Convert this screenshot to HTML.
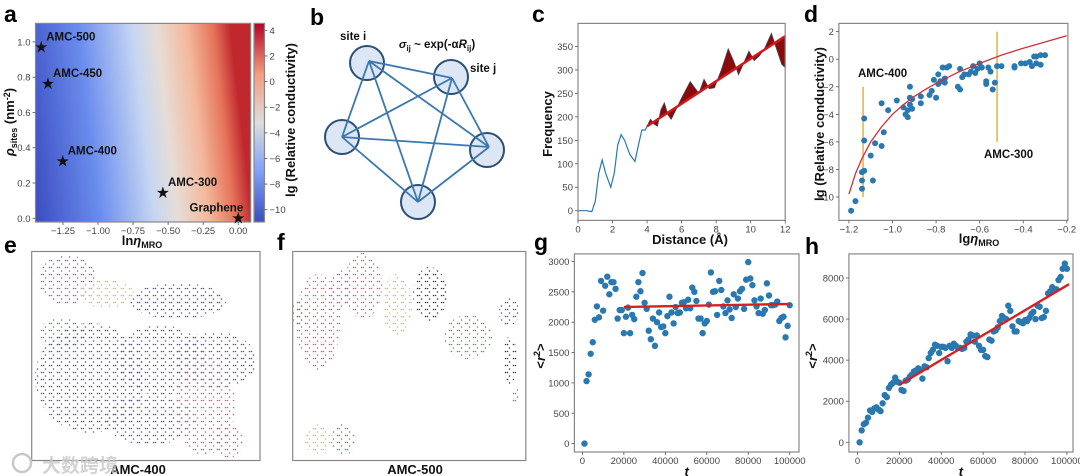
<!DOCTYPE html>
<html><head><meta charset="utf-8"><style>
html,body{margin:0;padding:0;background:#fff;}
svg{display:block;font-family:"Liberation Sans","Noto Sans CJK SC",sans-serif;}
.tk{font-size:9.5px;fill:#444;}
.lb{font-size:13px;font-weight:bold;fill:#111;}
.pl{font-size:23px;font-weight:bold;fill:#000;}
.an{font-size:11.5px;font-weight:bold;fill:#111;}
</style></head><body>
<svg id="fig" width="1080" height="476" viewBox="0 0 1080 476">
<defs>
<linearGradient id="hm" gradientUnits="userSpaceOnUse" x1="36" y1="230" x2="251" y2="205">
<stop offset="0" stop-color="#3b4cc0"/><stop offset="0.3" stop-color="#6a8cee"/><stop offset="0.55" stop-color="#c6d6f2"/><stop offset="0.66" stop-color="#e6ddd6"/><stop offset="0.8" stop-color="#f3b89c"/><stop offset="0.92" stop-color="#e5735a"/><stop offset="1" stop-color="#c0282e"/>
</linearGradient>
<linearGradient id="cb" x1="0" y1="1" x2="0" y2="0">
<stop offset="0" stop-color="#3b4cc0"/><stop offset="0.25" stop-color="#7b9ff9"/><stop offset="0.5" stop-color="#dddddd"/><stop offset="0.75" stop-color="#f49a7b"/><stop offset="1" stop-color="#b40426"/>
</linearGradient>
</defs>
<text class="pl" x="4" y="22">a</text>
<text class="pl" x="310" y="25">b</text>
<text class="pl" x="532" y="22">c</text>
<text class="pl" x="804" y="22">d</text>
<text class="pl" x="4" y="253">e</text>
<text class="pl" x="277" y="250">f</text>
<text class="pl" x="534" y="250">g</text>
<text class="pl" x="805" y="254">h</text>
</svg>
<script>
// ---------- data ----------
const starNames=["AMC-500","AMC-450","AMC-400","AMC-300","Graphene"];
const starX=[-1.405,-1.357,-1.252,-0.537,0.0];
const starY=[0.968,0.761,0.323,0.143,0.0];
const aXTicks=[-1.25,-1.0,-0.75,-0.5,-0.25,0.0];
const aXLabels=["\u22121.25","\u22121.00","\u22120.75","\u22120.50","\u22120.25","0.00"];
const aYTicks=[0,0.2,0.4,0.6,0.8,1.0];
const aYLabels=["0.0","0.2","0.4","0.6","0.8","1.0"];
const cbTicks=[-10,-8,-6,-4,-2,0,2,4];
const cbLabels=["\u221210","\u22128","\u22126","\u22124","\u22122","0","2","4"];

const distC=[0,0.5,0.8,1.0,1.2,1.4,1.6,1.9,2.1,2.3,2.5,2.7,3.0,3.3,3.5,3.7,3.9,4.0,4.2,4.4,4.6,4.8,5.0,5.2,5.4,5.6,6.0,6.5,6.8,7.0,7.3,7.6,7.9,8.3,8.7,9.0,9.3,9.6,9.9,10.2,10.5,10.8,11.2,11.5,11.8,12.0];
const freqC=[0,0,-2,20,80,108,80,50,80,140,162,150,120,105,140,172,172,180,195,185,180,215,230,205,195,210,240,275,260,250,280,260,262,300,345,320,290,315,340,320,330,345,378,345,312,305];
const trendStart=[4,180];
const trendEnd=[12,372];
const cXTicks=[0,2,4,6,8,10,12];
const cYTicks=[0,50,100,150,200,250,300,350];

const dX=[-1.19,-1.17,-1.14,-1.14,-1.14,-1.13,-1.13,-1.13,-1.1,-1.09,-1.08,-1.05,-1.04,-1.05,-1.02,-0.98,-0.95,-0.94,-0.93,-0.93,-0.92,-0.92,-0.92,-0.91,-0.91,-0.87,-0.87,-0.83,-0.82,-0.81,-0.8,-0.79,-0.79,-0.78,-0.77,-0.76,-0.76,-0.75,-0.74,-0.7,-0.69,-0.69,-0.68,-0.67,-0.65,-0.64,-0.63,-0.62,-0.61,-0.6,-0.59,-0.57,-0.57,-0.56,-0.55,-0.54,-0.53,-0.52,-0.5,-0.44,-0.44,-0.41,-0.39,-0.37,-0.36,-0.35,-0.34,-0.34,-0.32,-0.32,-0.3];
const dY=[-11,-10.3,-8.2,-8.8,-9.4,-8.1,-5.9,-4.3,-7,-8.8,-6.1,-6.3,-5.3,-3.2,-3.7,-3,-3.5,-4,-4.2,-3.7,-3.3,-2.8,-2,-2.9,-3.6,-3.2,-2.7,-2.6,-2.3,-1.5,-2.8,-1.8,-1.1,-1.6,-0.6,-1.4,-1.7,-0.6,-0.5,-2,-2.2,-0.7,-1.3,-1.1,-1.1,-0.9,-0.5,-1,-0.7,-0.3,-0.6,-1.6,-1.8,-0.6,-0.9,-2.2,-1.7,-0.5,-0.5,-0.5,-0.6,-0.3,-0.3,-0.2,-0.5,0.2,0.2,-0.3,0.3,-0.4,0.3];
const fitDX=[-1.2,-1.17,-1.14,-1.1,-1.05,-1.0,-0.95,-0.9,-0.85,-0.8,-0.7,-0.6,-0.5,-0.4,-0.3,-0.2];
const fitDY=[-9.8,-8.3,-7.2,-6.0,-4.9,-4.0,-3.3,-2.7,-2.2,-1.75,-0.95,-0.3,0.3,0.8,1.25,1.7];
const dXTicks=[-1.2,-1.0,-0.8,-0.6,-0.4,-0.2];
const dXLabels=["\u22121.2","\u22121.0","\u22120.8","\u22120.6","\u22120.4","\u22120.2"];
const dYTicks=[-10,-8,-6,-4,-2,0,2];
const dYLabels=["\u221210","\u22128","\u22126","\u22124","\u22122","0","2"];
const markerX=[-1.135,-0.52];
const markerTop=[-2,2];
const markerBottom=[-10,-6];

const tSteps=[1,2,3,4,5,6,7,8,9,10,11,12,13,14,15,16,17,18,19,20,21,22,23,24,25,26,27,28,29,30,31,32,33,34,35,36,37,38,39,40,41,42,43,44,45,46,47,48,49,50,51,52,53,54,55,56,57,58,59,60,61,62,63,64,65,66,67,68,69,70,71,72,73,74,75,76,77,78,79,80,81,82,83,84,85,86,87,88,89,90,91,92,93,94,95,96,97,98,99,100];
const r2G=[0,1030,1140,1480,1670,2040,2260,2080,2680,2190,2600,2750,2460,2660,2660,2550,2060,2200,2200,1820,2090,2240,1820,2120,2050,2420,2660,2510,2810,2320,2220,1860,1720,2060,1610,2000,2160,1920,1930,1820,2100,2420,2160,1980,2250,2150,2160,2320,2330,2230,2370,2230,2570,2500,2350,2060,2060,1820,1980,2020,2290,2820,2500,2510,2120,2680,2530,2260,2150,2360,2210,2070,2460,2250,2390,2510,2550,2220,2700,2990,2720,2610,2360,2260,2150,2390,2140,2200,2640,2440,2280,2280,2290,2340,2020,2070,2090,1750,1940,2280];
const fitGT=[20000,100000];
const fitGV=[2250,2300];
const r2H=[0,580,880,950,1200,1550,1480,1650,1700,1600,1520,1900,2300,2200,2650,2800,2900,3150,2950,2900,2550,2500,3000,3050,3200,3300,3450,3500,3600,3500,3100,3700,3650,4100,4350,4500,4750,4700,4350,4650,4650,4600,3950,4700,4600,4800,4700,4600,4600,4550,4600,4900,5000,5250,5200,4900,5200,4700,4500,4500,4200,4150,5000,4950,5400,5450,5600,5900,6150,6050,6000,6650,6400,5650,5400,5400,5900,5850,5800,5950,5900,6050,6250,6350,6000,6650,6600,6050,6100,6400,7250,7350,7550,7450,7450,7900,8050,8450,8700,8450];
const fitHT=[20000,101000];
const fitHV=[2800,7700];
const gXTicks=[0,20000,40000,60000,80000,100000];
const gYTicks=[0,500,1000,1500,2000,2500,3000];
const hYTicks=[0,2000,4000,6000,8000];

const clusterColors={blue:"#4a4ab0",purple:"#9a50b0",orange:"#e8b050",green:"#40a040",red:"#e05060",black:"#333"};
const regionsE=[[67,280,29,25,"purple"],[106,294,28,14,"orange"],[178,301,48,18,"blue"],[62,334,24,16,"green"],[90,378,55,55,"blue"],[160,360,45,35,"blue"],[215,360,42,28,"blue"],[150,420,45,25,"blue"],[205,405,30,50,"red"],[228,440,15,18,"red"]];
const regionsF=[[318,322,22,48,"red"],[363,286,19,33,"red"],[340,290,10,20,"purple"],[397,305,15,31,"orange"],[430,294,17,27,"black"],[468,337,24,22,"green"],[299,313,7,13,"green"],[318,440,13,16,"orange"],[343,440,12,16,"green"],[509,312,10,14,"blue"],[510,360,7,24,"black"],[515,395,4,8,"red"]];

// ---------- helpers ----------
const svg=document.getElementById('fig');
const NS='http://www.w3.org/2000/svg';
function mk(tag,attrs,parent){const e=document.createElementNS(NS,tag);for(const k in attrs)e.setAttribute(k,attrs[k]);(parent||svg).appendChild(e);return e;}
function lin(d0,d1,p0,p1){return v=>p0+(v-d0)*(p1-p0)/(d1-d0);}
function xTicks(sx,vals,labels,yb,pre){vals.forEach((v,i)=>{const l=mk('line',{x1:sx(v),x2:sx(v),y1:yb,y2:yb+3,stroke:'#555','stroke-width':0.8});


const t=mk('text',{x:sx(v),y:yb+12,'text-anchor':'middle',class:'tk'});t.textContent=labels[i];

});}
function yTicks(sy,vals,labels,xb,pre,right){vals.forEach((v,i)=>{const d=right?3:-3;const l=mk('line',{x1:xb,x2:xb+d,y1:sy(v),y2:sy(v),stroke:'#555','stroke-width':0.8});


const t=mk('text',{x:right?xb+5:xb-5,y:sy(v)+3.5,'text-anchor':right?'start':'end',class:'tk'});t.textContent=labels[i];

});}
function frame(x0,y0,x1,y1,name){const r=mk('rect',{x:x0,y:y0,width:x1-x0,height:y1-y0,fill:'none',stroke:'#888','stroke-width':1.2});

return r;}
function label(txt,x,y,rot,name,html){const t=mk('text',{x:x,y:y,'text-anchor':'middle',class:'lb'});if(rot)t.setAttribute('transform','rotate(-90 '+x+' '+y+')');if(html)t.innerHTML=html;else t.textContent=txt;

return t;}
function fmt(v){return String(v);}

// ---------- panel a ----------
(function(){
const sx=lin(-1.446,0.089,35.5,250.7), sy=lin(1.105,-0.021,23.4,222);
const bg=mk('rect',{x:35.5,y:23.4,width:215.2,height:198.6,fill:'url(#hm)'});


frame(35.5,23.4,250.7,222,'heatmap-frame');
xTicks(sx,aXTicks,aXLabels,222,'a');
yTicks(sy,aYTicks,aYLabels,35.5,'a');
starX.forEach((x,i)=>{const s=mk('text',{x:sx(x),y:sy(starY[i])+4,'text-anchor':'middle','font-size':'13px',fill:'#111'});s.textContent='\u2605';


const isG=starNames[i]==='Graphene';
const t=mk('text',{x:isG?sx(x)+5:sx(x)+5,y:sy(starY[i])-7,'text-anchor':isG?'end':'start',class:'an'});t.textContent=starNames[i];

});
const cbs=lin(4.54,-10.96,23.4,222);
const cbr=mk('rect',{x:254,y:23.4,width:10.5,height:198.6,fill:'url(#cb)'});


frame(254,23.4,264.5,222,'colorbar-frame');
yTicks(cbs,cbTicks,cbLabels,264.5,'colorbar',true);
label('',142,245,false,'x-axis-title-a','ln<tspan font-style="italic">η</tspan><tspan font-size="9" dy="3">MRO</tspan>');
label('',14,122,true,'y-axis-title-a','<tspan font-style="italic">ρ</tspan><tspan font-size="9" dy="3">sites</tspan><tspan dy="-3"> (nm</tspan><tspan font-size="9" dy="-4">-2</tspan><tspan dy="4">)</tspan>');
label('lg (Relative conductivity)',295,120,true,'colorbar-title');
})();

// ---------- panel b ----------
(function(){
const cx=[367,451,342,487,418], cy=[63,77,137,150,202];
const px=[369,452,342,489,418], py=[61,78,137,147,202];
for(let i=0;i<5;i++){const c=mk('circle',{cx:cx[i],cy:cy[i],r:17,fill:'#dce6f4',stroke:'#2c4f78','stroke-width':2});

}
for(let i=0;i<5;i++)for(let j=i+1;j<5;j++){const l=mk('line',{x1:px[i],y1:py[i],x2:px[j],y2:py[j],stroke:'#3a78b0','stroke-width':1.8});

}
const t1=mk('text',{x:340,y:40,class:'an','font-size':'12px'});t1.textContent='site i';


const t2=mk('text',{x:470,y:72,class:'an','font-size':'12px'});t2.textContent='site j';


const t3=mk('text',{x:437,y:48,'text-anchor':'middle',class:'an','font-size':'12px'});t3.innerHTML='<tspan font-style="italic">σ</tspan><tspan font-size="8" dy="3">ij</tspan><tspan dy="-3"> ~ exp(-α</tspan><tspan font-style="italic">R</tspan><tspan font-size="8" dy="3">ij</tspan><tspan dy="-3">)</tspan>';


})();

// ---------- panel c ----------
(function(){
const sx=lin(0,12,578,785.2), sy=lin(0,350,210.7,46.5);
const tr=x=>trendStart[1]+(x-trendStart[0])*(trendEnd[1]-trendStart[1])/(trendEnd[0]-trendStart[0]);
let poly=[];distC.forEach((d,i)=>{if(d>=trendStart[0])poly.push(sx(d)+','+sy(freqC[i]));});
poly.push(sx(trendEnd[0])+','+sy(trendEnd[1]));poly.push(sx(trendStart[0])+','+sy(trendStart[1]));
const f=mk('polygon',{points:poly.join(' '),fill:'#8a0a0a',stroke:'#4a3a5a','stroke-width':0.8});


const tl=mk('line',{x1:sx(trendStart[0]),y1:sy(tr(trendStart[0])),x2:sx(trendEnd[0]),y2:sy(tr(trendEnd[0])),stroke:'#d01818','stroke-width':2.5});


const pts=distC.map((d,i)=>sx(d)+','+sy(freqC[i])).filter((p,i)=>distC[i]<=trendStart[0]);
const ln=mk('polyline',{points:pts.join(' '),fill:'none',stroke:'#2a78b0','stroke-width':1.2});


frame(578,23.4,785.2,220.4,'plot-frame-c');
xTicks(sx,cXTicks,cXTicks.map(fmt),220.4,'c');
yTicks(sy,cYTicks,cYTicks.map(fmt),578,'c');
label('Frequency',552,124,true,'y-axis-title-c');
label('Distance (Å)',690,244,false,'x-axis-title-c');
})();

// ---------- panel d ----------
(function(){
const sx=lin(-1.246,-0.195,838.9,1067.9), sy=lin(2.6,-11.7,23.4,220.4);
markerX.forEach((x,i)=>{const l=mk('line',{x1:sx(x),x2:sx(x),y1:sy(markerTop[i]),y2:sy(markerBottom[i]),stroke:'#e8b848','stroke-width':1.6});

});
dX.forEach((x,i)=>{const c=mk('circle',{cx:sx(x),cy:sy(dY[i]),r:3,fill:'#2a78b0'});

});
const fp=mk('polyline',{points:fitDX.map((x,i)=>sx(x)+','+sy(fitDY[i])).join(' '),fill:'none',stroke:'#d0303a','stroke-width':1.3});


frame(838.9,23.4,1067.9,220.4,'plot-frame-d');
xTicks(sx,dXTicks,dXLabels,220.4,'d');
yTicks(sy,dYTicks,dYLabels,838.9,'d');
const a1=mk('text',{x:858,y:77,class:'an','font-size':'12px'});a1.textContent='AMC-400';


const a2=mk('text',{x:984,y:158,class:'an','font-size':'12px'});a2.textContent='AMC-300';


label('lg (Relative conductivity)',824,124,true,'y-axis-title-d');
label('',979,243,false,'x-axis-title-d','lg<tspan font-style="italic">η</tspan><tspan font-size="9" dy="3">MRO</tspan>');
})();

// ---------- panels g,h ----------
function msd(x0,x1,y0,y1,ox0,ox1,oy0,oy1,yv0,yv1,vals,fitT,fitV,yt,pre,ylx){
const sx=lin(0,100000,ox0,ox1), sy=lin(yv0,yv1,oy0,oy1);
vals.forEach((v,i)=>{const c=mk('circle',{cx:sx(tSteps[i]*1000),cy:sy(v),r:3.2,fill:'#2a78b0'});

});
const l=mk('line',{x1:sx(fitT[0]),y1:sy(fitV[0]),x2:sx(fitT[1]),y2:sy(fitV[1]),stroke:'#d62020','stroke-width':2.4});


frame(x0,y0,x1,y1,'plot-frame-'+pre);
xTicks(sx,gXTicks,gXTicks.map(fmt),y1,pre);
yTicks(sy,yt,yt.map(fmt),x0,pre);
label('',ylx,356,true,'y-axis-title-'+pre,'&lt;<tspan font-style="italic">r</tspan><tspan font-size="9" dy="-5">2</tspan><tspan dy="5">&gt;</tspan>');
label('',(x0+x1)/2,476,false,'x-axis-title-'+pre,'<tspan font-style="italic">t</tspan>');
}
msd(574.4,799,253.9,452,582.4,789.7,443.6,261.5,0,3000,r2G,fitGT,fitGV,gYTicks,'g',545);
msd(848.9,1073,253.9,452,857.5,1066.9,442.3,278,0,8000,r2H,fitHT,fitHV,hYTicks,'h',817);

// ---------- panels e,f ----------
const defs=svg.querySelector('defs');
for(const k in clusterColors){const p=mk('pattern',{id:'pt-'+k,width:8,height:7,patternUnits:'userSpaceOnUse'},defs);
mk('circle',{cx:1.5,cy:1.5,r:0.75,fill:clusterColors[k]},p);mk('circle',{cx:3.5,cy:1.5,r:0.75,fill:clusterColors[k]},p);mk('circle',{cx:5.5,cy:5,r:0.75,fill:clusterColors[k]},p);}
function network(regions,x0,y0,x1,y1,name,lab,lx){
const clip=mk('clipPath',{id:'clip-'+name},defs);mk('rect',{x:x0,y:y0,width:x1-x0,height:y1-y0},clip);
const g=mk('g',{'clip-path':'url(#clip-'+name+')'});


regions.forEach(r=>{const e=mk('ellipse',{cx:r[0],cy:r[1],rx:r[2],ry:r[3],fill:'url(#pt-'+r[4]+')'},g);

});
frame(x0,y0,x1,y1,name+'-frame');
label(lab,lx,474,false,name+'-title');
}
network(regionsE,31.7,251.5,260,460.5,'network-amc400','AMC-400',138);
network(regionsF,292.7,251.5,525.8,460.5,'network-amc500','AMC-500',415);
const wm=mk('text',{x:42,y:472,'font-size':'19px','font-weight':'bold',fill:'#c8c8c8',opacity:0.8});wm.textContent='大数跨境';


const wl=mk('circle',{cx:22,cy:463,r:9,fill:'none',stroke:'#c8c8c8','stroke-width':2.5});


</script>
</body></html>
